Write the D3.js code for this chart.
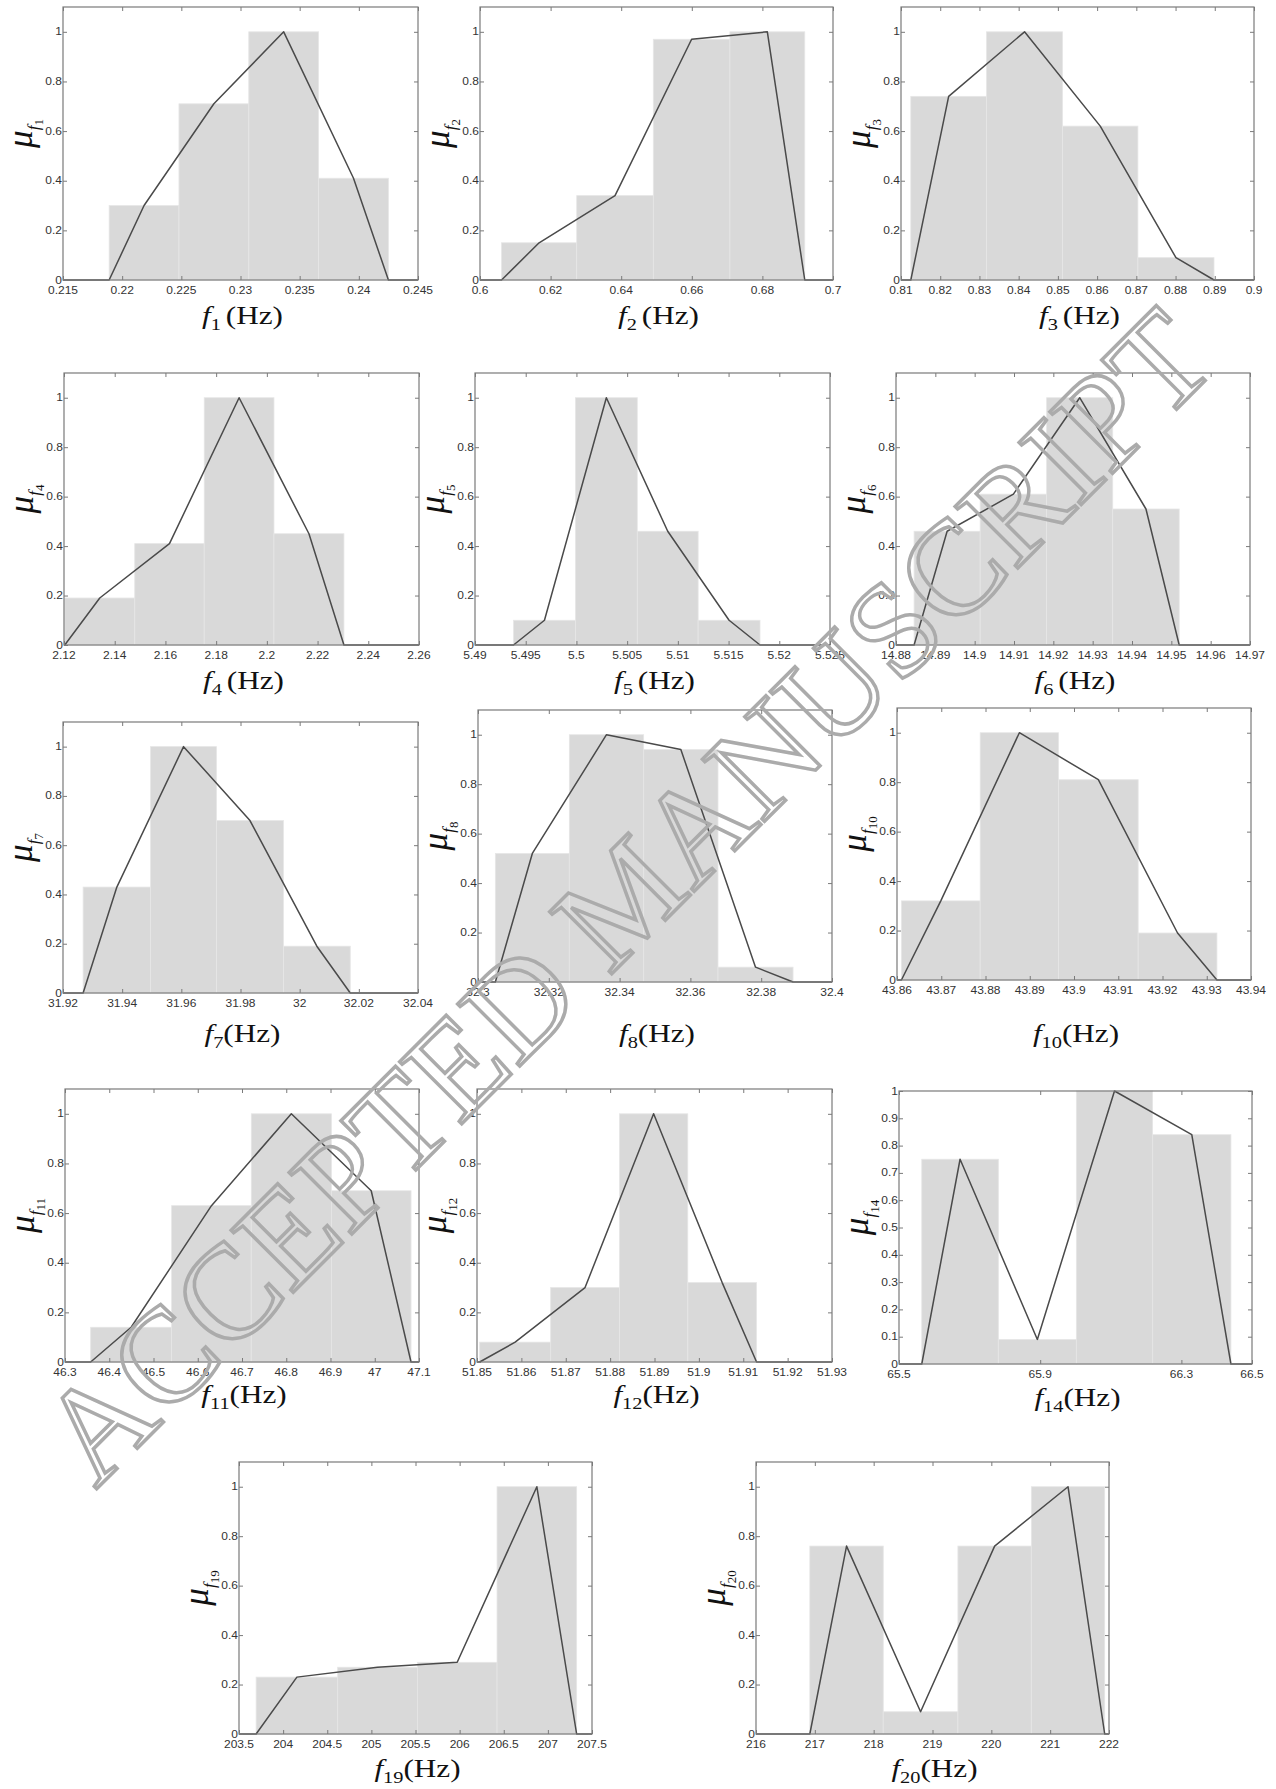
<!DOCTYPE html>
<html><head><meta charset="utf-8">
<script src="https://cdn.jsdelivr.net/npm/d3@7"></script>
<style>body{margin:0;background:#fff} svg{display:block}</style>
</head><body>
<svg id="c" width="1276" height="1789"></svg>
<script>
// ---------------- data ----------------
const yLabels = ["0","0.2","0.4","0.6","0.8","1"];
const yLabels14 = ["0","0.1","0.2","0.3","0.4","0.5","0.6","0.7","0.8","0.9","1"];

const f1Ticks = ["0.215","0.22","0.225","0.23","0.235","0.24","0.245"];
const f1Edges = [0.2189,0.2248,0.2307,0.2366,0.2425];
const f1Mu = [0.30,0.71,1.0,0.41];

const f2Ticks = ["0.6","0.62","0.64","0.66","0.68","0.7"];
const f2Edges = [0.6061,0.6274,0.6491,0.6708,0.6920];
const f2Mu = [0.15,0.34,0.97,1.0];

const f3Ticks = ["0.81","0.82","0.83","0.84","0.85","0.86","0.87","0.88","0.89","0.9"];
const f3Edges = [0.8125,0.8318,0.8512,0.8704,0.8898];
const f3Mu = [0.74,1.0,0.62,0.09];

const f4Ticks = ["2.12","2.14","2.16","2.18","2.2","2.22","2.24","2.26"];
const f4Edges = [2.1203,2.1479,2.1753,2.2028,2.2304];
const f4Mu = [0.19,0.41,1.0,0.45];

const f5Ticks = ["5.49","5.495","5.5","5.505","5.51","5.515","5.52","5.525"];
const f5Edges = [5.4938,5.4999,5.5060,5.5120,5.5181];
const f5Mu = [0.10,1.0,0.46,0.10];

const f6Ticks = ["14.88","14.89","14.9","14.91","14.92","14.93","14.94","14.95","14.96","14.97"];
const f6Edges = [14.8846,14.9014,14.9183,14.9351,14.9520];
const f6Mu = [0.46,0.61,1.0,0.55];

const f7Ticks = ["31.92","31.94","31.96","31.98","32","32.02","32.04"];
const f7Edges = [31.9268,31.9496,31.9719,31.9945,32.0171];
const f7Mu = [0.43,1.0,0.70,0.19];

const f8Ticks = ["32.3","32.32","32.34","32.36","32.38","32.4"];
const f8Edges = [32.3049,32.3258,32.3468,32.3678,32.3890];
const f8Mu = [0.52,1.0,0.94,0.06];

const f10Ticks = ["43.86","43.87","43.88","43.89","43.9","43.91","43.92","43.93","43.94"];
const f10Edges = [43.8610,43.8788,43.8965,43.9145,43.9323];
const f10Mu = [0.32,1.0,0.81,0.19];

const f11Ticks = ["46.3","46.4","46.5","46.6","46.7","46.8","46.9","47","47.1"];
const f11Edges = [46.358,46.541,46.721,46.902,47.082];
const f11Mu = [0.14,0.63,1.0,0.69];

const f12Ticks = ["51.85","51.86","51.87","51.88","51.89","51.9","51.91","51.92","51.93"];
const f12Edges = [51.8506,51.8666,51.8821,51.8975,51.9130];
const f12Mu = [0.08,0.30,1.0,0.32];

const f14Ticks = ["65.5","65.9","66.3","66.5"];
const f14Edges = [65.5645,65.7815,66.0024,66.2185,66.4403];
const f14Mu = [0.75,0.09,1.0,0.84];

const f19Ticks = ["203.5","204","204.5","205","205.5","206","206.5","207","207.5"];
const f19Edges = [203.694,204.618,205.521,206.424,207.326];
const f19Mu = [0.23,0.27,0.29,1.0];

const f20Ticks = ["216","217","218","219","220","221","222"];
const f20Edges = [216.915,218.163,219.432,220.680,221.927];
const f20Mu = [0.76,0.09,0.76,1.0];

const watermark = "ACCEPTED MANUSCRIPT";

// ---------------- layout ----------------
const panels = [
  {sym:"1",  t:f1Ticks,  e:f1Edges,  m:f1Mu,  x:[63,418],   y:[7,280],     lab:324, sp:true},
  {sym:"2",  t:f2Ticks,  e:f2Edges,  m:f2Mu,  x:[480,833],  y:[7,280],     lab:324, sp:true},
  {sym:"3",  t:f3Ticks,  e:f3Edges,  m:f3Mu,  x:[901,1254], y:[7,280],     lab:324, sp:true},
  {sym:"4",  t:f4Ticks,  e:f4Edges,  m:f4Mu,  x:[64,419],   y:[373,645],   lab:689, sp:true},
  {sym:"5",  t:f5Ticks,  e:f5Edges,  m:f5Mu,  x:[475,830],  y:[373,645],   lab:689, sp:true},
  {sym:"6",  t:f6Ticks,  e:f6Edges,  m:f6Mu,  x:[896,1250], y:[373,645],   lab:689, sp:true},
  {sym:"7",  t:f7Ticks,  e:f7Edges,  m:f7Mu,  x:[63,418],   y:[722,993],   lab:1042},
  {sym:"8",  t:f8Ticks,  e:f8Edges,  m:f8Mu,  x:[478,832],  y:[710,982],   lab:1042},
  {sym:"10", t:f10Ticks, e:f10Edges, m:f10Mu, x:[897,1251], y:[708,980],   lab:1042},
  {sym:"11", t:f11Ticks, e:f11Edges, m:f11Mu, x:[65,419],   y:[1089,1362], lab:1403},
  {sym:"12", t:f12Ticks, e:f12Edges, m:f12Mu, x:[477,832],  y:[1089,1362], lab:1403},
  {sym:"14", t:f14Ticks, e:f14Edges, m:f14Mu, x:[899,1252], y:[1091,1364], lab:1406, yl:yLabels14, ymax:1},
  {sym:"19", t:f19Ticks, e:f19Edges, m:f19Mu, x:[239,592],  y:[1462,1734], lab:1777},
  {sym:"20", t:f20Ticks, e:f20Edges, m:f20Mu, x:[756,1109], y:[1462,1734], lab:1777}
];

const svg = d3.select("#c");
const SX = 1.2; // horizontal stretch of the original figure's text
const frameCol = "#7a7a7a", tickTxt = "#333";

panels.forEach(p => {
  const ticks = p.t.map(Number);
  const yl = p.yl || yLabels;
  const yTicks = yl.map(Number);
  const xs = d3.scaleLinear().domain([ticks[0], ticks[ticks.length-1]]).range(p.x);
  const ys = d3.scaleLinear().domain([0, p.ymax || 1.1]).range([p.y[1], p.y[0]]);
  const g = svg.append("g");

  // bars
  g.selectAll("rect.bar").data(p.m).join("rect")
    .attr("x", (d,i) => xs(p.e[i]))
    .attr("width", (d,i) => xs(p.e[i+1]) - xs(p.e[i]))
    .attr("y", d => ys(d))
    .attr("height", d => ys(0) - ys(d))
    .attr("fill", "#d9d9d9")
    .attr("stroke", "#e6e6e6").attr("stroke-width", 0.8);

  // membership polyline through bin centres
  const n = p.e.length - 1;
  const pts = [[ticks[0],0],[p.e[0],0]];
  p.m.forEach((d,i) => pts.push([(p.e[i]+p.e[i+1])/2, d]));
  pts.push([p.e[n],0]);
  pts.push([ticks[ticks.length-1],0]);
  g.append("path")
    .attr("d", d3.line().x(d => xs(d[0])).y(d => ys(d[1]))(pts))
    .attr("fill","none").attr("stroke","#4a4a4a").attr("stroke-width",1.5)
    .attr("stroke-linejoin","round");

  // box
  g.append("rect")
    .attr("x", p.x[0]).attr("y", p.y[0])
    .attr("width", p.x[1]-p.x[0]).attr("height", p.y[1]-p.y[0])
    .attr("fill","none").attr("stroke",frameCol).attr("stroke-width",1.2);

  // inward ticks, all four sides (axis generators)
  const tl = 4;
  const axB = d3.axisTop(xs).tickValues(ticks).tickSize(tl).tickFormat("");
  const axT = d3.axisBottom(xs).tickValues(ticks).tickSize(tl).tickFormat("");
  const axL = d3.axisRight(ys).tickValues(yTicks).tickSize(tl).tickFormat("");
  const axR = d3.axisLeft(ys).tickValues(yTicks).tickSize(tl).tickFormat("");
  [[axB,`translate(0,${p.y[1]})`],[axT,`translate(0,${p.y[0]})`],
   [axL,`translate(${p.x[0]},0)`],[axR,`translate(${p.x[1]},0)`]].forEach(([ax,tr]) => {
    const a = g.append("g").attr("transform", tr).call(ax);
    a.select(".domain").remove();
    a.selectAll("line").attr("stroke", frameCol).attr("stroke-width", 1);
  });

  // x tick labels
  g.selectAll("text.xt").data(p.t).join("text")
    .attr("transform", d => `translate(${xs(+d)},${p.y[1]+7}) scale(${SX},1)`)
    .attr("dy","0.71em").attr("text-anchor","middle")
    .attr("font-family","Liberation Sans, Arial, sans-serif").attr("font-size",10)
    .attr("fill",tickTxt).text(d => d);

  // y tick labels
  g.selectAll("text.yt").data(yl).join("text")
    .attr("transform", d => `translate(${p.x[0]-1},${ys(+d)}) scale(${SX},1)`)
    .attr("dy","0.35em").attr("text-anchor","end")
    .attr("font-family","Liberation Sans, Arial, sans-serif").attr("font-size",10)
    .attr("fill",tickTxt).text(d => d);

  // x label
  const cx = (p.x[0]+p.x[1])/2 + 2;
  const xl = g.append("text")
    .attr("transform", `translate(${cx},${p.lab}) scale(1.2,1)`)
    .attr("text-anchor","middle")
    .attr("font-family","Liberation Serif, Times New Roman, serif")
    .attr("font-size",26).attr("fill","#111");
  xl.append("tspan").attr("font-style","italic").text("f");
  xl.append("tspan").attr("font-size",17).attr("dy",6).text(p.sym);
  xl.append("tspan").attr("dy",-6).attr("dx", p.sp ? 4 : 0).text("(Hz)");

  // y label
  const cy = (p.y[0]+p.y[1])/2 - 10;
  const ylab = g.append("text")
    .attr("transform", `translate(${p.x[0]-31},${cy}) rotate(-90)`)
    .attr("text-anchor","middle")
    .attr("font-family","Liberation Serif, Times New Roman, serif")
    .attr("fill","#111");
  ylab.append("tspan").attr("font-size",35).attr("font-style","italic").text("μ");
  ylab.append("tspan").attr("font-size",17).attr("font-style","italic").attr("dy",7).text("f");
  ylab.append("tspan").attr("font-size",13).attr("dy",4).text(p.sym);
});

// watermark: measure the full string once, then place each letter separately
const wm = svg.append("g").attr("transform","translate(626,896) rotate(-45)");
const wmAttrs = sel => sel
  .attr("dominant-baseline","central")
  .attr("font-family","Liberation Serif, Times New Roman, serif")
  .attr("font-size",134)
  .attr("fill","none").attr("stroke","#ababab").attr("stroke-width",3.5);
const probe = wmAttrs(wm.append("text").attr("text-anchor","middle").attr("x",0).attr("y",0)).text(watermark);
const node = probe.node();
const starts = watermark.split("").map((ch,i) => node.getStartPositionOfChar(i).x);
probe.remove();
watermark.split("").forEach((ch,i) => {
  if (ch === " ") return;
  wmAttrs(wm.append("text").attr("x", starts[i]).attr("y", 0).attr("text-anchor","start")).text(ch);
});
</script>
</body></html>
